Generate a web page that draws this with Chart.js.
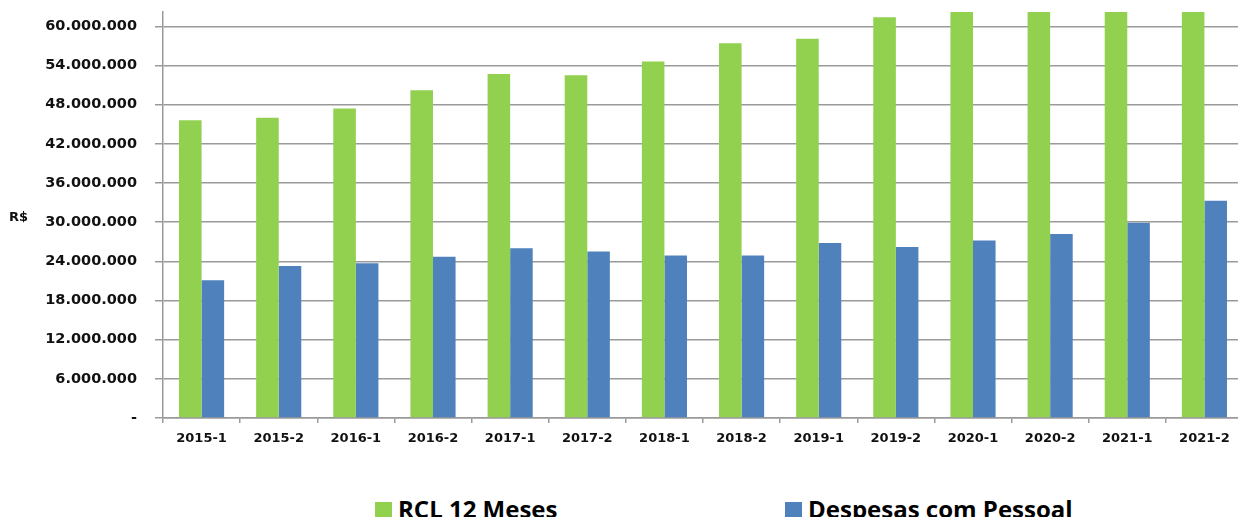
<!DOCTYPE html>
<html lang="pt">
<head>
  <meta charset="UTF-8" />
  <title>RCL 12 Meses x Despesas com Pessoal</title>
  <script src="https://cdn.jsdelivr.net/npm/chart.js"></script>
  <style>
    body {
      margin: 0;
      background: #fff;
      overflow: hidden;
      width: 1238px;
      height: 517px;
    }
    .wrap {
      position: relative;
      width: 1238px;
      height: 517px;
      overflow: hidden;
    }
    canvas { display: block; }
    .legend-item {
      position: absolute;
      top: 497px;
      font-family: "Open Sans", sans-serif;
      font-weight: bold;
      font-size: 24px;
      line-height: 24px;
      color: #000;
      white-space: nowrap;
    }
    .legend-item i {
      display: inline-block;
      width: 17px;
      height: 17px;
      margin-right: 6px;
      vertical-align: -1px;
    }
  </style>
</head>
<body>
  <div class="wrap">
    <canvas id="chart" width="1243" height="460"></canvas>
    <div class="legend-item" style="left:375px"><i style="background:#92d050"></i>RCL 12 Meses</div>
    <div class="legend-item" style="left:785px"><i style="background:#4f81bd"></i>Despesas com Pessoal</div>
  </div>

  <script>
    // data (R$)
    const periods = ['2015-1', '2015-2', '2016-1', '2016-2', '2017-1', '2017-2', '2018-1',
                     '2018-2', '2019-1', '2019-2', '2020-1', '2020-2', '2021-1', '2021-2'];
    const rcl12Meses = [45600000, 46000000, 47400000, 50200000, 52700000, 52500000, 54600000,
                        57400000, 58100000, 61400000, 63500000, 66000000, 69000000, 73000000];
    const despesasPessoal = [21100000, 23300000, 23700000, 24700000, 26000000, 25500000, 24900000,
                             24900000, 26800000, 26200000, 27200000, 28200000, 29900000, 33300000];
    const yTicks = [0, 6000000, 12000000, 18000000, 24000000, 30000000,
                    36000000, 42000000, 48000000, 54000000, 60000000];
    const yMax = 62200000;

    const gridColor = '#9a9a9a';

    function fmt(v) {
      if (v === 0) return '-';
      return String(v).replace(/\B(?=(\d{3})+(?!\d))/g, '.');
    }

    // horizontal "R$" title on the left
    const unitLabel = {
      id: 'unitLabel',
      afterDraw(chart) {
        const c = chart.ctx;
        const a = chart.chartArea;
        c.save();
        c.font = 'bold 13px "DejaVu Sans"';
        c.fillStyle = '#111';
        c.textAlign = 'left';
        c.textBaseline = 'middle';
        c.fillText('R$', 9, (a.top + a.bottom) / 2 + 3);
        c.restore();
      }
    };

    new Chart(document.getElementById('chart'), {
      type: 'bar',
      data: {
        labels: periods,
        datasets: [
          { label: 'RCL 12 Meses', data: rcl12Meses, backgroundColor: '#92d050' },
          { label: 'Despesas com Pessoal', data: despesasPessoal, backgroundColor: '#4f81bd' }
        ]
      },
      options: {
        responsive: false,
        animation: false,
        layout: { padding: { top: 12, left: 0, right: 0, bottom: 0 } },
        datasets: { bar: { categoryPercentage: 0.585, barPercentage: 1 } },
        plugins: {
          legend: { display: false },
          tooltip: { enabled: false }
        },
        scales: {
          x: {
            grid: { drawOnChartArea: false, drawTicks: true, tickLength: 5, color: gridColor, lineWidth: 1.5 },
            border: { color: gridColor, width: 1.5 },
            ticks: {
              padding: 8,
              color: '#111',
              font: { family: 'DejaVu Sans', weight: 'bold', size: 13 },
              maxRotation: 0
            },
            afterFit(scale) {
              scale.height = 42;
              scale.paddingLeft = 0;
              scale.paddingRight = 0;
            }
          },
          y: {
            min: 0,
            max: yMax,
            grid: { color: gridColor, lineWidth: 1.5, tickLength: 8 },
            border: { color: gridColor, width: 1.5 },
            ticks: {
              padding: 18,
              color: '#111',
              font: { family: 'DejaVu Sans', weight: 'bold', size: 14.5 },
              callback: v => fmt(v)
            },
            afterBuildTicks(scale) {
              scale.ticks = yTicks.map(v => ({ value: v }));
            },
            afterFit(scale) {
              scale.width = 163;
              scale.paddingTop = 0;
              scale.paddingBottom = 0;
            }
          }
        }
      },
      plugins: [unitLabel]
    });
  </script>
</body>
</html>
